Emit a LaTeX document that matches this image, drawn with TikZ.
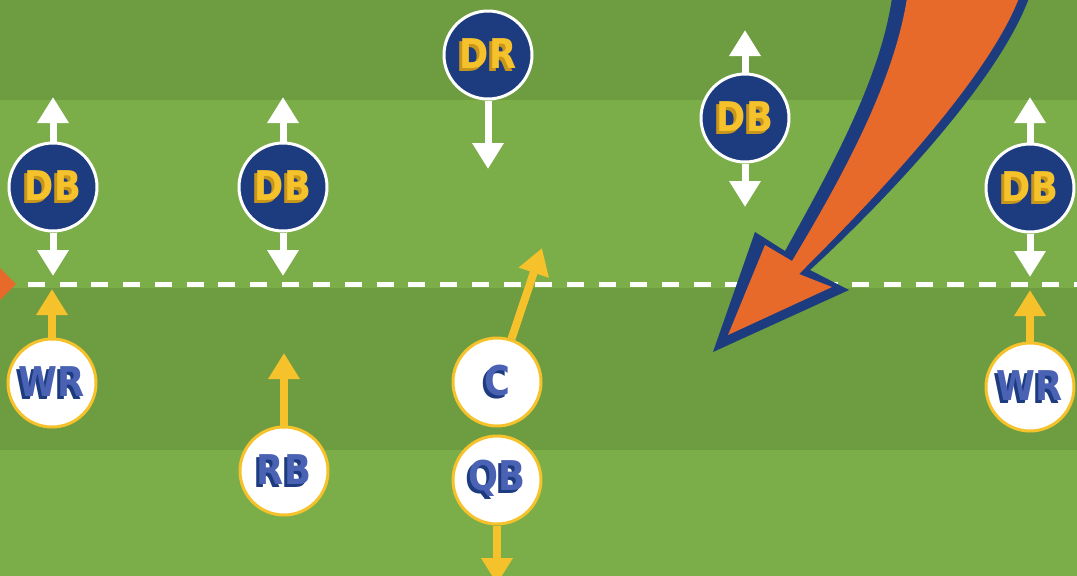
\documentclass[tikz,border=0pt]{standalone}
\usepackage{fontspec}
\usetikzlibrary{arrows.meta}
\newfontfamily\blockfont{DejaVu Sans}[FakeStretch=0.86]

\definecolor{turfdark}{HTML}{6E9C40}
\definecolor{turflight}{HTML}{7BAD48}
\definecolor{navy}{HTML}{1D3C80}
\definecolor{gold}{HTML}{F6C22C}
\definecolor{golddark}{HTML}{C9961C}
\definecolor{blitz}{HTML}{E86A2A}
\definecolor{letterblue}{HTML}{4A62B4}

% letters with a block shadow offset down-left
\newcommand\blocktext[3]{\leavevmode\rlap{\kern-3pt\raisebox{-3pt}{\textcolor{#1}{#3}}}\textcolor{#2}{#3}}

\tikzset{
  player/.style={circle, minimum size=88pt, inner sep=0pt, line width=3pt,
    font=\blockfont\bfseries\fontsize{41}{41}\selectfont},
  defender/.style={player, draw=white, fill=navy},
  offense/.style={player, draw=gold, fill=white},
  wharrow/.style={draw=white, line width=7pt, -{Triangle[width=30pt,length=26pt]}},
  yarrow/.style={draw=gold, line width=8pt, -{Triangle[width=30pt,length=26pt]}},
  scrimmage/.style={draw=white, line width=5pt, dash pattern=on 17pt off 14.7pt},
}

\begin{document}
\begin{tikzpicture}[x=1pt, y=-1pt]
\useasboundingbox (0,0) rectangle (1077,576);
\clip (0,0) rectangle (1077,576);

% turf bands
\fill[turfdark]  (0,0)   rectangle (1077,100);
\fill[turflight] (0,100) rectangle (1077,288);
\fill[turfdark]  (0,288) rectangle (1077,450);
\fill[turflight] (0,450) rectangle (1077,576);

% line of scrimmage
\coordinate (losL) at (28,284);
\coordinate (losR) at (1077,284);
\draw[scrimmage] (losL) -- (losR);

% tip of a blitz arrow entering from the left
\fill[blitz] (0,268) -- (16,284) -- (0,300) -- cycle;

% big blitz arrow: navy outline shape, orange body inset
\fill[navy] (892,-2) .. controls (880,80) and (830,170) .. (785,251)
  -- (755,232) -- (713,352) -- (849,290) -- (810,270)
  .. controls (865,220) and (995,90) .. (1029,-2) -- cycle;
\fill[blitz] (907,-2) .. controls (894,82) and (843,176) .. (792,261)
  -- (765,245) -- (728,335) -- (832,287) -- (799,274)
  .. controls (857,216) and (985,86) .. (1019,-2) -- cycle;

% defense
\node[defender] (DB1) at (53,187)  {\blocktext{golddark}{gold}{DB}};
\node[defender] (DB2) at (283,187) {\blocktext{golddark}{gold}{DB}};
\node[defender] (DR)  at (488,55)  {\blocktext{golddark}{gold}{DR}};
\node[defender] (DB3) at (745,118) {\blocktext{golddark}{gold}{DB}};
\node[defender] (DB4) at (1030,188){\blocktext{golddark}{gold}{DB}};

\coordinate (DB1up) at (53,97);   \coordinate (DB1dn) at (53,276);
\coordinate (DB2up) at (283,97);  \coordinate (DB2dn) at (283,276);
\coordinate (DRdn)  at (488,169);
\coordinate (DB3up) at (745,30);  \coordinate (DB3dn) at (745,207);
\coordinate (DB4up) at (1030,97); \coordinate (DB4dn) at (1030,277);

\draw[wharrow] (DB1) -- (DB1up);
\draw[wharrow] (DB1) -- (DB1dn);
\draw[wharrow] (DB2) -- (DB2up);
\draw[wharrow] (DB2) -- (DB2dn);
\draw[wharrow] (DR)  -- (DRdn);
\draw[wharrow] (DB3) -- (DB3up);
\draw[wharrow] (DB3) -- (DB3dn);
\draw[wharrow] (DB4) -- (DB4up);
\draw[wharrow] (DB4) -- (DB4dn);

% offense
\node[offense] (WR1) at (52,383)   {\blocktext{navy}{letterblue}{WR}};
\node[offense] (RB)  at (284,471)  {\blocktext{navy}{letterblue}{RB}};
\node[offense] (C)   at (497,382)  {\blocktext{navy}{letterblue}{C}};
\node[offense] (QB)  at (497,480)  {\blocktext{navy}{letterblue}{QB}};
\node[offense] (WR2) at (1030,387) {\blocktext{navy}{letterblue}{WR}};

\coordinate (WR1up) at (52,289);
\coordinate (RBup)  at (284,353);
\coordinate (Cup)   at (542,248);
\coordinate (QBdn)  at (497,584);
\coordinate (WR2up) at (1030,290);

\draw[yarrow] (WR1) -- (WR1up);
\draw[yarrow] (RB)  -- (RBup);
\draw[yarrow] (C)   -- (Cup);
\draw[yarrow] (QB)  -- (QBdn);
\draw[yarrow] (WR2) -- (WR2up);
\end{tikzpicture}
\end{document}
